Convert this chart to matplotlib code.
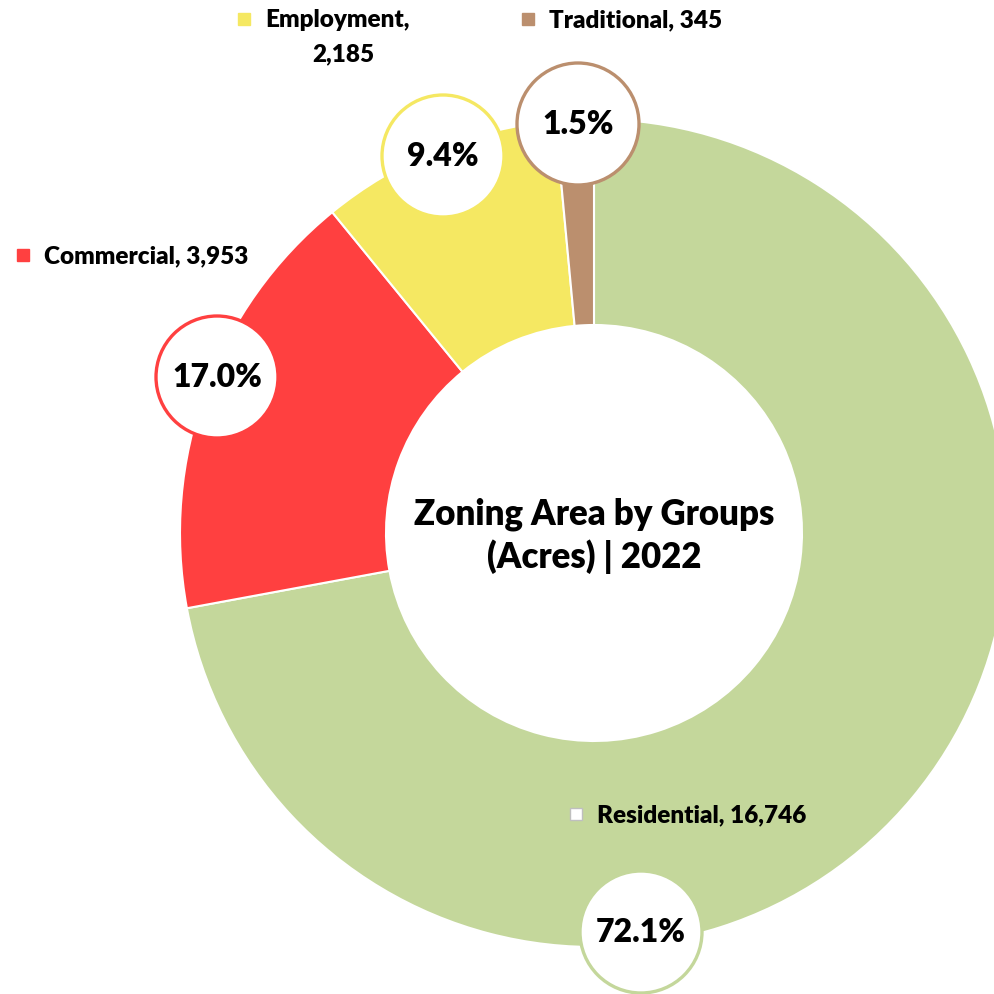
import matplotlib.pyplot as plt
from matplotlib.patches import Circle, Rectangle

plt.rcParams['font.family'] = ['Lato', 'DejaVu Sans']
plt.rcParams['font.weight'] = 'heavy'

categories = ['Residential', 'Commercial', 'Employment', 'Traditional']
acres = [16746, 3953, 2185, 345]
colors = ['#C4D79B', '#FF4040', '#F5E862', '#BB8F6E']
title = 'Zoning Area by Groups\n(Acres) | 2022'

H = 995
# label bubble centres / legend positions in pixel coords (top-left origin)
bubble_pos = [(641, 933), (217, 378), (443, 157), (578, 125)]
legend_pos = [(576, 815), (23, 256), (244, 20), (528, 20)]

fig = plt.figure(figsize=(9.95, 9.95), dpi=100)
ax = fig.add_axes([0, 0, 1, 1])

cx, cy, R = 594, H - 534, 414
ax.pie(acres, colors=colors, startangle=90, counterclock=False,
       center=(cx, cy), radius=R, frame=True,
       wedgeprops=dict(width=R - 208, edgecolor='white', linewidth=1.5))
ax.set_xlim(0, H)
ax.set_ylim(0, H)
ax.set_aspect('equal')
ax.axis('off')

ax.text(cx, cy - 2, title, ha='center', va='center', fontsize=25,
        fontweight='heavy', linespacing=1.3)

total = sum(acres)
for i, name in enumerate(categories):
    bx, by = bubble_pos[i]
    ax.add_patch(Circle((bx, H - by), 61, facecolor='white',
                        edgecolor=colors[i], linewidth=2.4, zorder=5))
    pct = acres[i] / total * 100
    ax.text(bx, H - by, f'{pct:.1f}%', ha='center', va='center',
            fontsize=23, fontweight='heavy', zorder=6)

    lx, ly = legend_pos[i]
    fc = 'white' if name == 'Residential' else colors[i]
    ec = '#BFBFBF' if name == 'Residential' else colors[i]
    ax.add_patch(Rectangle((lx - 6, H - ly - 6), 12, 12, facecolor=fc,
                           edgecolor=ec, linewidth=1, zorder=5))
    if name == 'Employment':
        ax.text(lx + 21, H - ly, f'{name},', ha='left', va='center',
                fontsize=17.5, fontweight='heavy')
        ax.text(lx + 99, H - ly - 34, f'{acres[i]:,}', ha='center',
                va='center', fontsize=17.5, fontweight='heavy')
    else:
        ax.text(lx + 21, H - ly, f'{name}, {acres[i]:,}', ha='left',
                va='center', fontsize=17.5, fontweight='heavy')

plt.savefig('out.png', dpi=100)
